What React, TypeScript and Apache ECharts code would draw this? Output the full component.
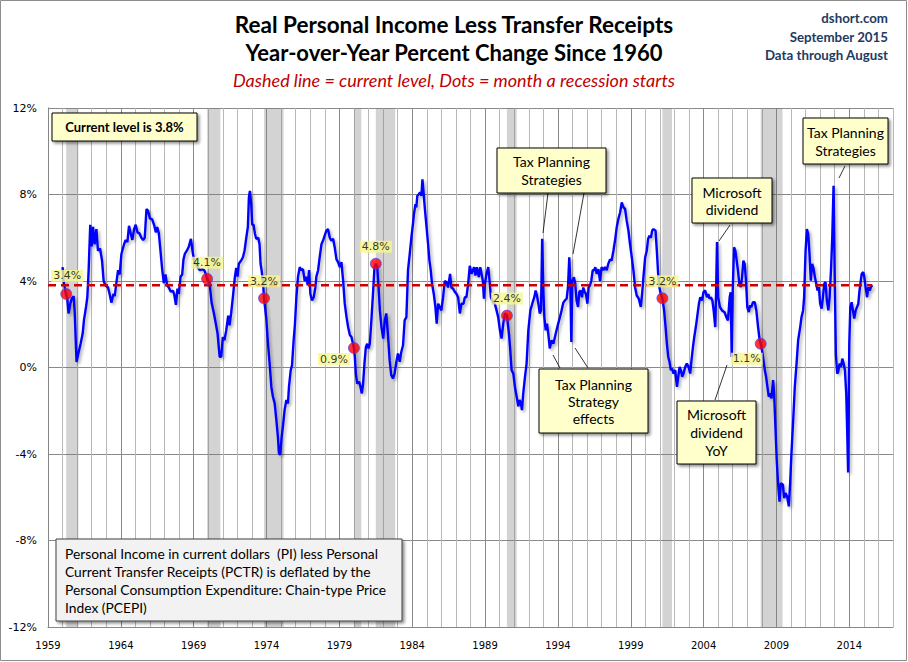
import React, { useEffect, useRef } from "react";
import * as echarts from "echarts";

// Year-over-year % change, [decimal year, value]
const yoy1960s: [number, number][] = [
  [1960.0, 4.64], [1960.07, 4.0], [1960.17, 3.6], [1960.25, 3.35], [1960.32, 3.2], [1960.41, 2.5], [1960.53, 2.95],
  [1960.64, 3.2], [1960.76, 3.3], [1960.83, 2.6], [1960.96, 0.26], [1961.1, 0.7], [1961.24, 1.1], [1961.38, 1.57],
  [1961.47, 2.2], [1961.61, 2.8], [1961.7, 3.25], [1961.79, 4.5], [1961.9, 6.6], [1962.0, 5.6], [1962.09, 6.5],
  [1962.2, 5.7], [1962.32, 6.4], [1962.43, 5.4], [1962.57, 5.5], [1962.71, 4.95], [1962.82, 4.0], [1962.94, 3.8],
  [1963.12, 3.7], [1963.23, 3.4], [1963.35, 3.0], [1963.49, 3.4], [1963.58, 3.3], [1963.69, 3.9], [1963.81, 4.5],
  [1963.92, 4.3], [1964.04, 5.25], [1964.22, 5.7], [1964.33, 5.9], [1964.45, 5.8], [1964.56, 6.55], [1964.68, 6.2],
  [1964.79, 5.9], [1964.91, 6.4], [1965.02, 6.6], [1965.14, 6.25], [1965.28, 6.2], [1965.41, 6.0], [1965.53, 5.9],
  [1965.64, 6.0], [1965.76, 7.33], [1965.87, 7.25], [1965.99, 6.9], [1966.15, 6.85], [1966.28, 6.6], [1966.4, 6.25],
  [1966.49, 6.5], [1966.61, 6.2], [1966.72, 5.4], [1966.83, 4.6], [1966.95, 3.9], [1967.06, 4.3], [1967.18, 3.8],
  [1967.29, 3.7], [1967.43, 3.5], [1967.57, 3.55], [1967.66, 3.4], [1967.78, 2.9], [1967.89, 3.65], [1967.98, 3.4],
  [1968.1, 4.2], [1968.21, 4.3], [1968.3, 5.0], [1968.39, 5.25], [1968.53, 5.4], [1968.67, 5.6], [1968.81, 5.95],
  [1968.92, 5.4], [1969.01, 5.0], [1969.13, 4.8], [1969.27, 4.64], [1969.43, 4.5], [1969.59, 4.55], [1969.72, 4.5],
  [1969.82, 4.35], [1969.92, 4.1],
];
const yoy1970s: [number, number][] = [
  [1970.09, 3.9], [1970.23, 3.0], [1970.39, 2.5], [1970.5, 2.1], [1970.64, 1.57], [1970.78, 0.5], [1970.89, 0.5],
  [1971.0, 1.41], [1971.11, 1.26], [1971.23, 1.7], [1971.37, 2.4], [1971.46, 1.95], [1971.57, 2.5], [1971.69, 3.25],
  [1971.83, 4.2], [1971.92, 4.6], [1972.01, 4.2], [1972.1, 4.8], [1972.26, 4.95], [1972.38, 5.1], [1972.49, 5.4],
  [1972.61, 6.0], [1972.72, 6.5], [1972.79, 7.86], [1972.86, 8.17], [1972.95, 7.55], [1973.02, 6.6], [1973.11, 6.6],
  [1973.2, 6.2], [1973.29, 5.95], [1973.43, 6.0], [1973.52, 5.7], [1973.59, 4.8], [1973.66, 4.5], [1973.75, 4.0],
  [1973.83, 3.2], [1973.98, 2.3], [1974.1, 1.1], [1974.21, 0.2], [1974.33, -0.9], [1974.44, -1.35], [1974.56, -1.66],
  [1974.67, -2.4], [1974.78, -3.2], [1974.85, -3.96], [1974.94, -4.04], [1975.04, -3.2], [1975.13, -2.7],
  [1975.24, -1.97], [1975.36, -1.5], [1975.47, -1.66], [1975.54, -0.9], [1975.66, -0.12], [1975.75, 0.1],
  [1975.86, 1.26], [1975.95, 2.0], [1976.05, 3.25], [1976.16, 4.2], [1976.28, 4.64], [1976.39, 4.5], [1976.5, 4.55],
  [1976.62, 4.0], [1976.73, 4.2], [1976.83, 3.8], [1976.92, 4.5], [1977.01, 3.4], [1977.12, 3.1], [1977.24, 3.25],
  [1977.35, 3.7], [1977.42, 4.2], [1977.54, 4.5], [1977.65, 5.1], [1977.77, 5.7], [1977.88, 5.87], [1977.99, 6.1],
  [1978.11, 6.33], [1978.22, 6.4], [1978.34, 6.0], [1978.45, 5.87], [1978.57, 5.95], [1978.68, 5.56], [1978.8, 5.0],
  [1978.91, 4.87], [1979.03, 4.64], [1979.14, 4.87], [1979.26, 4.0], [1979.37, 2.95], [1979.49, 2.33],
  [1979.6, 1.87], [1979.72, 1.5], [1979.83, 1.41],
];
const yoy1980s: [number, number][] = [
  [1980.0, 0.9], [1980.06, 0.5], [1980.13, -0.28], [1980.22, -0.74], [1980.36, -0.66], [1980.45, -0.9],
  [1980.54, -1.2], [1980.63, -0.74], [1980.72, 0.18], [1980.82, 0.95], [1980.91, 1.1], [1981.0, 0.88], [1981.09, 1.1],
  [1981.21, 2.33], [1981.32, 3.56], [1981.41, 4.64], [1981.5, 4.8], [1981.6, 4.64], [1981.69, 3.7], [1981.78, 2.64],
  [1981.89, 1.87], [1982.01, 1.34], [1982.12, 2.2], [1982.22, 2.5], [1982.33, 1.57], [1982.45, 0.34], [1982.56, -0.35],
  [1982.68, -0.5], [1982.79, -0.28], [1982.91, 0.26], [1983.02, 0.65], [1983.14, 0.26], [1983.25, 0.72],
  [1983.37, 1.03], [1983.48, 2.18], [1983.6, 2.33], [1983.71, 4.5], [1983.83, 5.25], [1983.94, 6.0], [1984.06, 6.7],
  [1984.12, 7.1], [1984.22, 7.55], [1984.28, 7.4], [1984.35, 7.94], [1984.44, 8.0], [1984.54, 8.1], [1984.63, 7.94],
  [1984.7, 8.7], [1984.77, 8.17], [1984.86, 7.4], [1984.97, 6.6], [1985.09, 5.7], [1985.18, 4.95], [1985.27, 4.5],
  [1985.36, 3.87], [1985.48, 3.4], [1985.59, 2.8], [1985.68, 2.03], [1985.78, 2.95], [1985.89, 2.8], [1986.0, 2.64],
  [1986.12, 3.25], [1986.23, 4.0], [1986.35, 3.95], [1986.46, 3.7], [1986.6, 4.33], [1986.69, 3.7], [1986.81, 3.64],
  [1986.92, 3.5], [1987.04, 3.4], [1987.15, 3.25], [1987.27, 2.5], [1987.38, 2.95], [1987.52, 2.95], [1987.61, 3.25],
  [1987.72, 3.25], [1987.84, 3.87], [1987.95, 4.7], [1988.07, 4.33], [1988.16, 4.5], [1988.25, 4.64], [1988.34, 4.25],
  [1988.44, 4.64], [1988.57, 4.18], [1988.67, 4.64], [1988.76, 4.33], [1988.85, 4.0], [1988.92, 3.18], [1988.99, 3.87],
  [1989.1, 4.33], [1989.22, 4.64], [1989.31, 4.0], [1989.4, 3.25], [1989.56, 3.0], [1989.67, 2.95], [1989.79, 2.64],
  [1989.9, 2.33],
];
const yoy1990s: [number, number][] = [
  [1990.02, 1.72], [1990.13, 1.34], [1990.25, 2.03], [1990.36, 2.5], [1990.5, 2.4], [1990.64, 1.57], [1990.73, 0.8],
  [1990.82, -0.12], [1990.94, -0.28], [1991.05, -0.9], [1991.17, -1.35], [1991.28, -1.8], [1991.37, -1.5],
  [1991.46, -1.66], [1991.53, -1.97], [1991.62, -1.2], [1991.74, -0.43], [1991.85, 0.18], [1991.97, 1.72],
  [1992.11, 2.64], [1992.24, 2.95], [1992.38, 3.25], [1992.47, 3.56], [1992.56, 3.33], [1992.66, 2.95], [1992.75, 2.5],
  [1992.84, 2.64], [1992.92, 5.95], [1993.0, 3.56], [1993.07, 2.33], [1993.16, 1.72], [1993.25, 2.03], [1993.34, 1.57],
  [1993.44, 0.88], [1993.57, 1.26], [1993.69, 1.1], [1993.85, 1.57], [1994.02, 2.03], [1994.14, 2.33], [1994.25, 2.64],
  [1994.37, 3.0], [1994.48, 3.1], [1994.6, 3.18], [1994.69, 3.7], [1994.78, 5.1], [1994.85, 4.0], [1994.92, 1.18],
  [1994.99, 4.0], [1995.1, 4.18], [1995.19, 3.87], [1995.28, 3.1], [1995.38, 2.8], [1995.47, 3.5], [1995.56, 3.56],
  [1995.65, 3.25], [1995.74, 3.7], [1995.83, 3.5], [1995.93, 3.4], [1996.02, 2.95], [1996.11, 3.7], [1996.2, 3.8],
  [1996.29, 4.0], [1996.39, 4.5], [1996.48, 4.5], [1996.57, 4.64], [1996.66, 4.33], [1996.78, 4.55], [1996.89, 4.0],
  [1997.0, 4.64], [1997.12, 4.5], [1997.23, 4.64], [1997.35, 4.5], [1997.46, 4.8], [1997.58, 5.0], [1997.69, 4.95],
  [1997.81, 5.4], [1997.92, 5.87], [1998.04, 6.5], [1998.15, 6.87], [1998.27, 7.17], [1998.38, 7.63], [1998.5, 7.4],
  [1998.61, 7.33], [1998.72, 6.8], [1998.84, 6.33], [1998.95, 5.7], [1999.07, 5.1], [1999.18, 4.5], [1999.3, 3.7],
  [1999.41, 3.33], [1999.55, 3.18], [1999.69, 2.8], [1999.78, 3.4], [1999.87, 4.18], [1999.99, 5.1],
];
const yoy2000s: [number, number][] = [
  [2000.1, 5.4], [2000.19, 5.95], [2000.28, 6.1], [2000.38, 6.0], [2000.47, 6.33], [2000.56, 6.4], [2000.7, 6.33],
  [2000.79, 5.4], [2000.88, 4.33], [2000.97, 3.7], [2001.06, 3.4], [2001.17, 3.2], [2001.29, 2.64], [2001.39, 1.87],
  [2001.48, 1.1], [2001.57, 0.5], [2001.66, 0.26], [2001.75, -0.12], [2001.84, -0.05], [2001.94, -0.28],
  [2002.05, -0.12], [2002.17, -0.9], [2002.26, -0.43], [2002.35, 0.03], [2002.44, -0.12], [2002.53, -0.43],
  [2002.62, -0.28], [2002.74, 0.03], [2002.85, 0.18], [2002.97, 0.03], [2003.08, -0.28], [2003.17, 0.34],
  [2003.27, 0.95], [2003.36, 1.41], [2003.5, 2.03], [2003.59, 2.5], [2003.68, 2.95], [2003.77, 3.25], [2003.89, 3.1],
  [2004.0, 3.5], [2004.11, 3.56], [2004.23, 3.25], [2004.32, 3.4], [2004.41, 3.18], [2004.5, 3.25], [2004.6, 3.1],
  [2004.69, 2.64], [2004.8, 1.87], [2004.85, 3.25], [2004.92, 5.8], [2005.0, 3.25], [2005.12, 2.8], [2005.26, 2.64],
  [2005.44, 2.56], [2005.56, 2.33], [2005.67, 2.18], [2005.79, 3.25], [2005.86, 3.48], [2005.93, 0.49], [2006.0, 3.56],
  [2006.09, 5.56], [2006.18, 5.4], [2006.27, 4.94], [2006.36, 4.48], [2006.45, 3.87], [2006.55, 3.72], [2006.64, 4.18],
  [2006.73, 4.94], [2006.82, 4.79], [2006.91, 4.02], [2007.0, 2.79], [2007.1, 2.56], [2007.19, 2.87], [2007.28, 2.79],
  [2007.39, 3.02], [2007.51, 3.02], [2007.62, 2.64], [2007.74, 1.87], [2007.85, 1.26], [2007.92, 1.1], [2008.01, 0.8],
  [2008.11, 0.33], [2008.2, -0.12], [2008.29, -0.43], [2008.38, -0.89], [2008.47, -1.35], [2008.56, -1.2],
  [2008.66, -1.43], [2008.77, -0.58], [2008.84, -1.2], [2008.93, -2.74], [2009.02, -4.28], [2009.11, -5.35],
  [2009.21, -6.2], [2009.3, -5.35], [2009.44, -5.42], [2009.53, -6.04], [2009.62, -5.8], [2009.73, -5.96],
  [2009.85, -6.42], [2009.94, -5.35],
];
const yoy2010s: [number, number][] = [
  [2010.03, -3.97], [2010.15, -2.43], [2010.26, -0.89], [2010.38, 0.18], [2010.49, 1.26], [2010.63, 1.87],
  [2010.72, 2.33], [2010.83, 2.64], [2010.9, 3.25], [2011.0, 5.4], [2011.09, 6.4], [2011.18, 6.17], [2011.27, 5.25],
  [2011.36, 4.02], [2011.45, 4.79], [2011.55, 4.56], [2011.64, 4.18], [2011.73, 3.87], [2011.82, 3.56], [2011.91, 3.72],
  [2012.0, 2.95], [2012.1, 2.72], [2012.19, 3.25], [2012.28, 3.87], [2012.37, 3.95], [2012.46, 3.1], [2012.56, 2.64],
  [2012.65, 3.25], [2012.75, 4.6], [2012.83, 6.0], [2012.92, 8.4], [2013.0, 4.2], [2013.08, 0.6], [2013.17, -0.28],
  [2013.24, -0.2], [2013.33, 0.18], [2013.43, 0.03], [2013.52, 0.41], [2013.61, 0.18], [2013.7, -0.12],
  [2013.79, -1.2], [2013.85, -2.74], [2013.92, -4.85], [2014.0, 1.1], [2014.07, 2.79], [2014.16, 3.02],
  [2014.25, 2.64], [2014.34, 2.26], [2014.44, 2.64], [2014.53, 2.79], [2014.62, 2.95], [2014.69, 3.48],
  [2014.76, 3.87], [2014.85, 4.33], [2014.96, 4.41], [2015.03, 4.18], [2015.12, 3.72], [2015.22, 3.25],
  [2015.31, 3.72], [2015.4, 3.56], [2015.49, 3.72], [2015.58, 3.8],
];

// Recessions (NBER), decimal years
const recessionStarts = [1960.25, 1969.92, 1973.83, 1980.0, 1981.5, 1990.5, 2001.17, 2007.92];
const recessionEnds = [1961.08, 1970.83, 1975.17, 1980.5, 1982.83, 1991.17, 2001.83, 2009.42];
const recessionStartValues = [3.4, 4.1, 3.2, 0.9, 4.8, 2.4, 3.2, 1.1];

const currentLevel = 3.8;
const lastMonth = 2015.58;
const xMin = 1959;
const xMax = 2017;
const yMin = -12;
const yMax = 12;
const yStep = 4;

const titleLines = [
  "Real Personal Income Less Transfer Receipts",
  "Year-over-Year Percent Change Since 1960",
];
const subtitle = "Dashed line = current level, Dots = month a recession starts";
const sourceLines = ["dshort.com", "September 2015", "Data through August"];
const noteLines = [
  "Personal Income in current dollars  (PI) less Personal",
  "Current Transfer Receipts (PCTR) is deflated by the",
  "Personal Consumption Expenditure: Chain-type Price",
  "Index (PCEPI)",
];

// label offsets for the dots (style)
const dotLabelOffsets: [number, number][] = [
  [1, -18], [0, -16], [0, -17], [-20, 11], [0, -17], [0, -17], [0, -17], [-14, 15],
];

const FONT = "Lato, 'DejaVu Sans', sans-serif";

export default function App() {
  const ref = useRef<HTMLDivElement>(null);
  useEffect(() => {
    if (!ref.current) return;
    const chart = echarts.init(ref.current, undefined, { renderer: "svg" });
    const lineData = [...yoy1960s, ...yoy1970s, ...yoy1980s, ...yoy1990s, ...yoy2000s, ...yoy2010s];

    const box = (x: number, y: number, w: number, h: number, fill = "#ffffcc", stroke = "#000") => ({
      type: "rect",
      shape: { x, y, width: w, height: h },
      style: {
        fill,
        stroke,
        lineWidth: 1,
        shadowColor: "rgba(0,0,0,0.45)",
        shadowBlur: 3,
        shadowOffsetX: 2,
        shadowOffsetY: 2,
      },
      z: 100,
    });
    const boxText = (x: number, y: number, text: string, lh = 18, extra: any = {}) => ({
      type: "text",
      x,
      y,
      style: {
        text,
        fill: "#000",
        fontFamily: FONT,
        fontSize: 14,
        lineHeight: lh,
        align: "center",
        verticalAlign: "middle",
        ...extra,
      },
      z: 101,
    });
    const leader = (x1: number, y1: number, x2: number, y2: number) => ({
      type: "line",
      shape: { x1, y1, x2, y2 },
      style: { stroke: "#000", lineWidth: 0.8 },
      z: 99,
    });

    const graphic: any[] = [
      {
        type: "rect",
        shape: { x: 0.5, y: 0.5, width: 906, height: 660 },
        style: { fill: "none", stroke: "#8c8c8c", lineWidth: 1 },
        z: 0,
      },
      {
        type: "text",
        x: 454,
        y: 24,
        style: { text: titleLines[0], fill: "#000", fontFamily: FONT, fontWeight: "bold", fontSize: 22.5, align: "center", verticalAlign: "middle" },
      },
      {
        type: "text",
        x: 454,
        y: 52,
        style: { text: titleLines[1], fill: "#000", fontFamily: FONT, fontWeight: "bold", fontSize: 22, align: "center", verticalAlign: "middle" },
      },
      {
        type: "text",
        x: 454,
        y: 80,
        style: { text: subtitle, fill: "#c00000", fontFamily: FONT, fontStyle: "italic", fontSize: 18, align: "center", verticalAlign: "middle" },
      },
      ...sourceLines.map((t, i) => ({
        type: "text",
        x: 888,
        y: 18 + i * 18.5,
        style: { text: t, fill: "#1f3a5f", fontFamily: FONT, fontWeight: "bold", fontSize: 13.3, align: "right", verticalAlign: "middle" },
      })),
      box(52, 113, 145, 28),
      boxText(124.5, 127, "Current level is 3.8%", 18, { fontWeight: "bold", fontSize: 13 }),
      box(497, 148, 109, 45),
      boxText(551.5, 170.5, "Tax Planning\nStrategies"),
      leader(548, 193, 543, 233),
      leader(584, 193, 573, 254),
      box(692, 178, 80, 45),
      boxText(732, 200.5, "Microsoft\ndividend", 17),
      leader(730, 225, 719, 241),
      box(803, 118, 85, 46),
      boxText(845.5, 141.5, "Tax Planning\nStrategies"),
      leader(845, 166, 839, 178),
      box(539, 369, 109, 64),
      boxText(593.5, 401, "Tax Planning\nStrategy\neffects", 17),
      leader(560, 368, 553, 355),
      leader(588, 368, 575, 348),
      box(677, 401, 79, 63),
      boxText(716.5, 432, "Microsoft\ndividend\nYoY", 18),
      leader(715, 400, 727, 365),
      box(56, 539, 346, 82, "#f2f2f2", "#404040"),
      {
        type: "text",
        x: 65,
        y: 544,
        style: {
          text: noteLines.join("\n"),
          fill: "#000",
          fontFamily: FONT,
          fontSize: 13.8,
          lineHeight: 18,
          align: "left",
          verticalAlign: "top",
        },
        z: 101,
      },
    ];

    const option: any = {
      animation: false,
      backgroundColor: "#fff",
      grid: { left: 48, right: 15, top: 108, bottom: 35, containLabel: false },
      xAxis: {
        type: "value",
        min: xMin,
        max: xMax,
        interval: 1,
        axisLine: { show: true, onZero: false, lineStyle: { color: "#868686", width: 1 } },
        axisTick: { show: false },
        axisLabel: {
          color: "#000",
          fontFamily: "'DejaVu Sans', sans-serif",
          fontSize: 10,
          margin: 13,
          formatter: (v: number) => ((v - xMin) % 5 === 0 && v <= 2014 ? String(v) : ""),
        },
        splitLine: {
          show: true,
          lineStyle: { color: ["#8a8a8a", "#b8b8b8", "#b8b8b8", "#b8b8b8", "#b8b8b8"], width: 1 },
        },
      },
      yAxis: {
        type: "value",
        min: yMin,
        max: yMax,
        interval: yStep,
        axisLine: { show: true, lineStyle: { color: "#868686", width: 1 } },
        axisTick: { show: false },
        axisLabel: {
          color: "#000",
          fontFamily: "'DejaVu Sans', sans-serif",
          fontSize: 11,
          margin: 11,
          formatter: (v: number) => `${v}%`,
        },
        splitLine: { show: true, lineStyle: { color: "#8a8a8a", width: 1 } },
      },
      series: [
        {
          name: "Recessions",
          type: "line",
          data: [[xMin, yMin], [xMin, yMin]],
          symbol: "none",
          lineStyle: { opacity: 0 },
          silent: true,
          z: 1,
          markArea: {
            silent: true,
            itemStyle: { color: "rgba(120,120,120,0.33)" },
            data: recessionStarts.map((s, i) => [{ xAxis: s }, { xAxis: recessionEnds[i] }]),
          },
        },
        {
          name: "YoY",
          type: "line",
          data: lineData,
          showSymbol: false,
          symbol: "none",
          z: 3,
          lineStyle: {
            color: "#0000ff",
            width: 2.4,
            shadowColor: "rgba(0,0,0,0.3)",
            shadowBlur: 3,
            shadowOffsetX: 2,
            shadowOffsetY: 2,
          },
        },
        {
          name: "Current level",
          type: "line",
          data: [[xMin, currentLevel], [lastMonth, currentLevel]],
          symbol: "none",
          z: 4,
          lineStyle: { color: "#cc0000", width: 2.5, type: [8, 5] },
        },
        {
          name: "Recession starts",
          type: "scatter",
          z: 5,
          symbol: "circle",
          symbolSize: 11,
          itemStyle: { color: "#ff0000", borderColor: "#4040ff", borderWidth: 0.8 },
          data: recessionStarts.map((s, i) => ({
            value: [s, recessionStartValues[i]],
            label: { offset: dotLabelOffsets[i] },
          })),
          label: {
            show: true,
            position: "inside",
            formatter: (p: any) => `${p.value[1].toFixed(1)}%`,
            color: "#000",
            fontFamily: "'DejaVu Sans', sans-serif",
            fontSize: 11,
            backgroundColor: "#f7f78f",
            padding: [1, 2, 0, 2],
          },
        },
      ],
      graphic,
    };
    chart.setOption(option);
    return () => chart.dispose();
  }, []);
  return (
    <div
      ref={ref}
      style={{ position: "fixed", left: 0, top: 0, width: 908, height: 662, background: "#fff" }}
    />
  );
}
